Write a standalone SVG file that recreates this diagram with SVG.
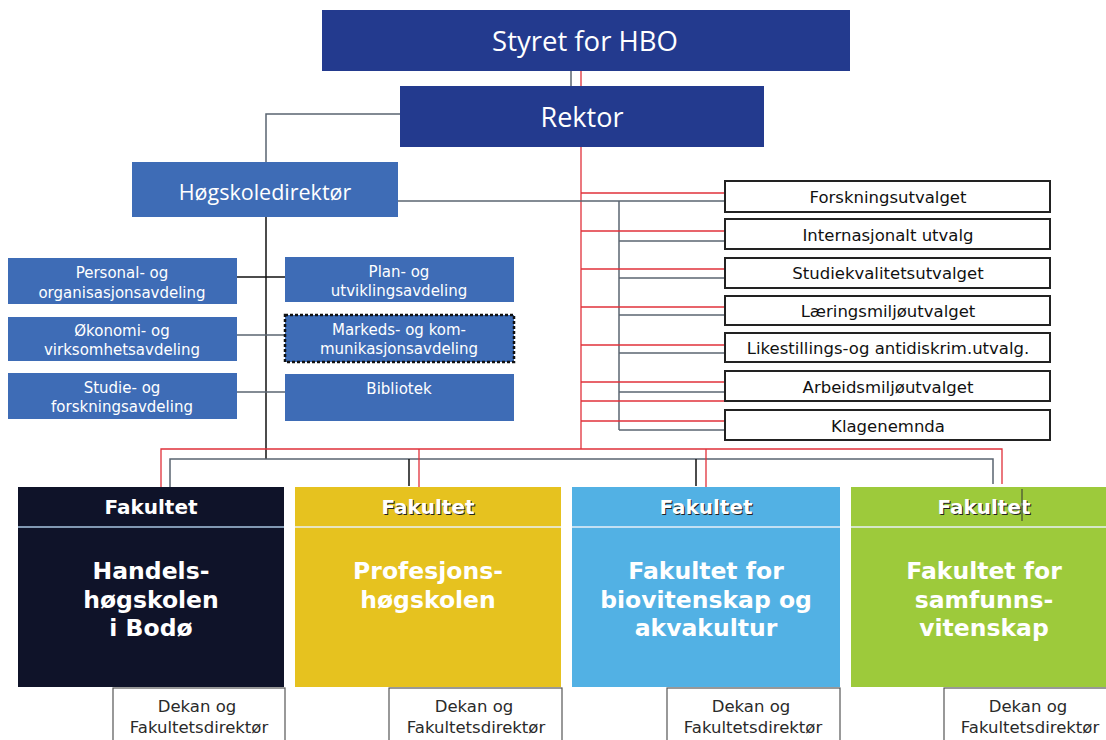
<svg xmlns="http://www.w3.org/2000/svg" width="1106" height="740" viewBox="0 0 1106 740">
<style>
.top{fill:#233a8e}
.dept{fill:#3e6cb6}
.t1{font-family:"Open Sans","DejaVu Sans",sans-serif;fill:#fff;text-anchor:middle}
.dt{font-family:"DejaVu Sans",Verdana,sans-serif;font-size:15px;fill:#fff;text-anchor:middle}
.cm{fill:#fff;stroke:#222;stroke-width:2}
.ct{font-family:"DejaVu Sans",Verdana,sans-serif;font-size:16.5px;fill:#111;text-anchor:middle}
.fh{font-family:"DejaVu Sans",Verdana,sans-serif;font-weight:bold;font-size:20px;fill:#fff;text-anchor:middle}
.fs{font-family:"DejaVu Sans",Verdana,sans-serif;font-weight:bold;font-size:20px;fill:#222;text-anchor:middle}
.fb{font-family:"DejaVu Sans",Verdana,sans-serif;font-weight:bold;font-size:23.5px;fill:#fff;text-anchor:middle}
.dk{fill:#fff;stroke:#555;stroke-width:1.2}
.dkt{font-family:"DejaVu Sans",Verdana,sans-serif;font-size:16.5px;fill:#2a2a2a;text-anchor:middle}
.red{stroke:#e0303a;stroke-width:1.3;fill:none}
.gray{stroke:#5a6470;stroke-width:1.5;fill:none}
.blk{stroke:#111;stroke-width:1.5;fill:none}
.sep{stroke:#e8f0f8;stroke-width:1.5}
</style>
<rect width="1106" height="740" fill="#fff"/>
<g id="connectors">
<line class="gray" x1="571" y1="71" x2="571" y2="86"/>
<line class="red" x1="581" y1="71" x2="581" y2="86"/>
<polyline class="gray" points="400,114 266,114 266,162"/>
<line class="red" x1="581" y1="147" x2="581" y2="449"/>
<line class="gray" x1="398" y1="201" x2="725" y2="201"/>
<line class="gray" x1="619" y1="201" x2="619" y2="430"/>
<line class="red" x1="581" y1="193" x2="725" y2="193"/>
<line class="red" x1="581" y1="231" x2="725" y2="231"/>
<line class="red" x1="581" y1="269" x2="725" y2="269"/>
<line class="red" x1="581" y1="307" x2="725" y2="307"/>
<line class="red" x1="581" y1="345" x2="725" y2="345"/>
<line class="red" x1="581" y1="382" x2="725" y2="382"/>
<line class="red" x1="581" y1="401" x2="725" y2="401"/>
<line class="red" x1="581" y1="421" x2="725" y2="421"/>
<line class="gray" x1="619" y1="241" x2="725" y2="241"/>
<line class="gray" x1="619" y1="278" x2="725" y2="278"/>
<line class="gray" x1="619" y1="315" x2="725" y2="315"/>
<line class="gray" x1="619" y1="353" x2="725" y2="353"/>
<line class="gray" x1="619" y1="392" x2="725" y2="392"/>
<line class="gray" x1="619" y1="430" x2="725" y2="430"/>
<line class="blk" x1="266" y1="217" x2="266" y2="459"/>
<line class="blk" x1="237" y1="277" x2="285" y2="277"/>
<line class="gray" x1="237" y1="335" x2="285" y2="335"/>
<line class="gray" x1="237" y1="392" x2="285" y2="392"/>
<polyline class="red" points="161,487 161,449 1002,449 1002,484"/>
<polyline class="gray" points="170,487 170,459 993,459 993,484"/>
<line class="red" x1="419" y1="449" x2="419" y2="487"/>
<line class="red" x1="706" y1="449" x2="706" y2="487"/>
<line class="blk" x1="409" y1="459" x2="409" y2="486"/>
<line class="blk" x1="696" y1="459" x2="696" y2="486"/>
</g>
<g id="styret">
<rect class="top" x="322" y="10" width="528" height="61"/>
<text class="t1" x="585" y="51" font-size="27.5">Styret for HBO</text>
</g>
<g id="rektor">
<rect class="top" x="400" y="86" width="364" height="61"/>
<text class="t1" x="582" y="127" font-size="27">Rektor</text>
</g>
<g id="hogskoledirektor">
<rect class="dept" x="132" y="162" width="266" height="55"/>
<text class="t1" x="265" y="200" font-size="21.5">Høgskoledirektør</text>
</g>
<g id="personal">
<rect class="dept" x="8" y="258" width="229" height="46"/>
<text class="dt" x="122" y="278">Personal- og</text>
<text class="dt" x="122" y="298">organisasjonsavdeling</text>
</g>
<g id="okonomi">
<rect class="dept" x="8" y="317" width="229" height="44"/>
<text class="dt" x="122" y="336">Økonomi- og</text>
<text class="dt" x="122" y="355">virksomhetsavdeling</text>
</g>
<g id="studie">
<rect class="dept" x="8" y="373" width="229" height="46"/>
<text class="dt" x="122" y="393">Studie- og</text>
<text class="dt" x="122" y="412">forskningsavdeling</text>
</g>
<g id="plan">
<rect class="dept" x="285" y="257" width="229" height="45"/>
<text class="dt" x="399" y="277">Plan- og</text>
<text class="dt" x="399" y="296">utviklingsavdeling</text>
</g>
<g id="markeds">
<rect class="dept" x="285" y="315" width="229" height="47" stroke="#111" stroke-width="2.5" stroke-dasharray="3,2"/>
<text class="dt" x="399" y="335">Markeds- og kom-</text>
<text class="dt" x="399" y="354">munikasjonsavdeling</text>
</g>
<g id="bibliotek">
<rect class="dept" x="285" y="374" width="229" height="47"/>
<text class="dt" x="399" y="394">Bibliotek</text>
</g>
<g id="forskningsutvalget">
<rect class="cm" x="725" y="181" width="325" height="31"/>
<text class="ct" x="888" y="203">Forskningsutvalget</text>
</g>
<g id="internasjonalt">
<rect class="cm" x="725" y="219" width="325" height="30"/>
<text class="ct" x="888" y="241">Internasjonalt utvalg</text>
</g>
<g id="studiekvalitet">
<rect class="cm" x="725" y="258" width="325" height="30"/>
<text class="ct" x="888" y="279">Studiekvalitetsutvalget</text>
</g>
<g id="laeringsmiljo">
<rect class="cm" x="725" y="296" width="325" height="29"/>
<text class="ct" x="888" y="317">Læringsmiljøutvalget</text>
</g>
<g id="likestillings">
<rect class="cm" x="725" y="333" width="325" height="29"/>
<text class="ct" x="888" y="354">Likestillings-og antidiskrim.utvalg.</text>
</g>
<g id="arbeidsmiljo">
<rect class="cm" x="725" y="371" width="325" height="30"/>
<text class="ct" x="888" y="393">Arbeidsmiljøutvalget</text>
</g>
<g id="klagenemnda">
<rect class="cm" x="725" y="410" width="325" height="30"/>
<text class="ct" x="888" y="432">Klagenemnda</text>
</g>
<g id="fak-handels">
<rect x="18" y="487" width="266" height="200" fill="#0f1329"/>
<line x1="18" y1="527" x2="284" y2="527" stroke="#a9c6e0" stroke-width="1.5"/>
<text class="fh" x="151" y="514">Fakultet</text>
<text class="fb" x="151" y="579">Handels-</text>
<text class="fb" x="151" y="608">høgskolen</text>
<text class="fb" x="151" y="636">i Bodø</text>
</g>
<g id="fak-profesjon">
<rect x="295" y="487" width="266" height="200" fill="#e6c21f"/>
<line class="sep" x1="295" y1="527" x2="561" y2="527"/>
<text class="fs" x="429" y="515">Fakultet</text>
<text class="fh" x="428" y="514">Fakultet</text>
<text class="fb" x="428" y="579">Profesjons-</text>
<text class="fb" x="428" y="608">høgskolen</text>
</g>
<g id="fak-bio">
<rect x="572" y="487" width="268" height="200" fill="#52b1e4"/>
<line class="sep" x1="572" y1="527" x2="840" y2="527"/>
<text class="fs" x="707" y="515">Fakultet</text>
<text class="fh" x="706" y="514">Fakultet</text>
<text class="fb" x="706" y="579">Fakultet for</text>
<text class="fb" x="706" y="608">biovitenskap og</text>
<text class="fb" x="706" y="636">akvakultur</text>
</g>
<g id="fak-samfunn">
<rect x="851" y="487" width="255" height="200" fill="#9dca3b"/>
<line class="sep" x1="851" y1="527" x2="1106" y2="527"/>
<text class="fs" x="985" y="515">Fakultet</text>
<text class="fh" x="984" y="514">Fakultet</text>
<line x1="1022" y1="489" x2="1022" y2="521" stroke="#333" stroke-width="1"/>
<text class="fb" x="984" y="579">Fakultet for</text>
<text class="fb" x="984" y="608">samfunns-</text>
<text class="fb" x="984" y="636">vitenskap</text>
</g>
<g id="dekan-1">
<rect class="dk" x="113" y="688" width="172" height="60"/>
<text class="dkt" x="197" y="712">Dekan og</text>
<text class="dkt" x="199" y="733">Fakultetsdirektør</text>
</g>
<g id="dekan-2">
<rect class="dk" x="389" y="688" width="173" height="60"/>
<text class="dkt" x="474" y="712">Dekan og</text>
<text class="dkt" x="476" y="733">Fakultetsdirektør</text>
</g>
<g id="dekan-3">
<rect class="dk" x="667" y="688" width="173" height="60"/>
<text class="dkt" x="751" y="712">Dekan og</text>
<text class="dkt" x="753" y="733">Fakultetsdirektør</text>
</g>
<g id="dekan-4">
<rect class="dk" x="944" y="688" width="170" height="60"/>
<text class="dkt" x="1028" y="712">Dekan og</text>
<text class="dkt" x="1030" y="733">Fakultetsdirektør</text>
</g>
</svg>
